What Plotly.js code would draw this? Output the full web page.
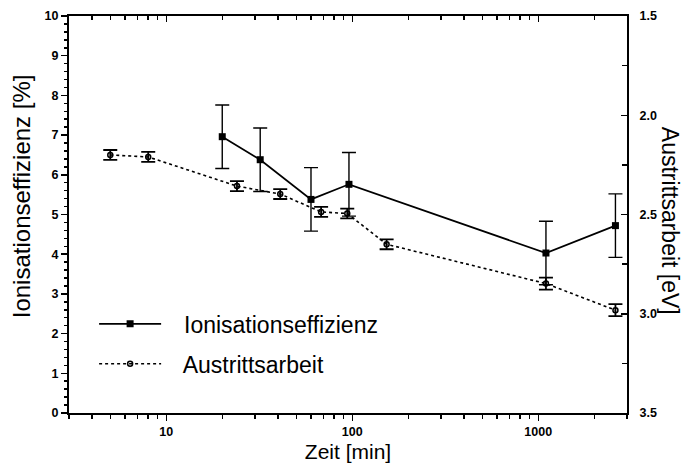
<!DOCTYPE html>
<html><head><meta charset="utf-8">
<script src="https://cdn.plot.ly/plotly-3.0.1.min.js"></script>
<style>html,body{margin:0;padding:0;background:#fff}</style>
</head><body><div id="chart" style="width:686px;height:470px"></div>
<script>
// Ionisationseffizienz [%] vs Zeit [min]
const ionTime = [20, 32, 60, 96, 1100, 2600];
const ionValue = [6.96, 6.38, 5.38, 5.76, 4.03, 4.72];
const ionError = [0.8, 0.8, 0.8, 0.8, 0.8, 0.8];
// Austrittsarbeit [eV] vs Zeit [min]
const workTime = [5, 8, 24, 41, 68, 94, 153, 1100, 2600];
const workValue = [2.20, 2.21, 2.357, 2.397, 2.487, 2.495, 2.65, 2.848, 2.982];
const workError = [0.025, 0.025, 0.025, 0.025, 0.025, 0.025, 0.025, 0.03, 0.03];
const xTickVals = [10, 100, 1000];
const xTickText = ['10', '100', '1000'];
const yLeftTicks = [0,1,2,3,4,5,6,7,8,9,10];
const yRightTicks = [1.5, 2.0, 2.5, 3.0, 3.5];
const yRightText = ['1.5', '2.0', '2.5', '3.0', '3.5'];

const FONT = 'Liberation Sans, Arial, sans-serif';
const tickFont = {family: 'Liberation Sans', size: 12.5, color: '#000', weight: 'bold'};

const traces = [
  {
    x: ionTime, y: ionValue, name: '\u2002 Ionisationseffizienz', type: 'scatter', mode: 'lines+markers',
    legendgroup: 'a',
    line: {color: '#000', width: 1.7},
    marker: {symbol: 'square', size: 7, color: '#000'},
    error_y: {type: 'data', array: ionError, visible: true, color: '#000', thickness: 1.4, width: 7},
    xaxis: 'x', yaxis: 'y'
  },
  {
    x: workTime, y: workValue, name: '\u2002 Austrittsarbeit', type: 'scatter', mode: 'lines+markers',
    legendgroup: 'b',
    line: {color: '#000', width: 1.6, dash: 'dot'},
    marker: {symbol: 'circle-open', size: 5, color: '#000', line: {width: 1.5, color: '#000'}},
    error_y: {type: 'data', array: workError, visible: true, color: '#000', thickness: 1.8, width: 7},
    xaxis: 'x', yaxis: 'y2'
  }
];

const xRange = [Math.log10(3), Math.log10(3000)];
const layout = {
  width: 686, height: 470,
  margin: {l: 69, r: 59, t: 16, b: 57, pad: 0},
  paper_bgcolor: '#fff', plot_bgcolor: '#fff',
  font: {family: FONT, color: '#000'},
  showlegend: true,
  legend: {
    x: 0.045, y: 0.174, xanchor: 'left', yanchor: 'middle',
    font: {family: FONT, size: 23, color: '#000'},
    bgcolor: 'rgba(0,0,0,0)', itemwidth: 62, tracegroupgap: 7
  },
  xaxis: {
    type: 'log', range: xRange, showgrid: false, zeroline: false,
    showline: true, linecolor: '#000', linewidth: 2,
    ticks: 'outside', ticklen: 6, tickwidth: 1.5, tickcolor: '#000',
    tickvals: xTickVals, ticktext: xTickText, tickfont: tickFont,
    minor: {ticks: 'outside', ticklen: 4, tickwidth: 1.5, tickcolor: '#000', dtick: 'D1', showgrid: false},
    title: {text: 'Zeit [min]', font: {family: FONT, size: 21, color: '#000'}, standoff: 6}
  },
  xaxis2: {
    type: 'log', range: xRange, overlaying: 'x', side: 'top', showgrid: false, zeroline: false,
    showline: true, linecolor: '#000', linewidth: 2,
    ticks: 'inside', ticklen: 6, tickwidth: 1.5, tickcolor: '#000',
    tickvals: xTickVals, showticklabels: false,
    minor: {ticks: 'inside', ticklen: 4, tickwidth: 1.5, tickcolor: '#000', dtick: 'D1', showgrid: false}
  },
  yaxis: {
    range: [0, 10], showgrid: false, zeroline: false,
    showline: true, linecolor: '#000', linewidth: 2,
    ticks: 'outside', ticklen: 6, tickwidth: 1.5, tickcolor: '#000',
    tickvals: yLeftTicks, tickfont: tickFont,
    minor: {ticks: 'outside', ticklen: 3, tickwidth: 1.5, tickcolor: '#000', dtick: 0.2, showgrid: false}
  },
  yaxis2: {
    range: [3.5, 1.5], overlaying: 'y', side: 'right', showgrid: false, zeroline: false,
    showline: true, linecolor: '#000', linewidth: 2,
    ticks: 'inside', ticklen: 6, tickwidth: 1.5, tickcolor: '#000',
    tickvals: yRightTicks, ticktext: yRightText, tickfont: tickFont, ticklabelstandoff: 8,
    minor: {ticks: 'inside', ticklen: 5, tickwidth: 1.5, tickcolor: '#000', dtick: 0.25, showgrid: false}
  },
  annotations: [
    {
      text: 'Ionisationseffizienz [%]', xref: 'paper', yref: 'paper', x: -0.086, y: 0.546,
      xanchor: 'center', yanchor: 'middle', textangle: -90, showarrow: false,
      font: {family: FONT, size: 24, color: '#000'}
    },
    {
      text: 'Austrittsarbeit [eV]', xref: 'paper', yref: 'paper', x: 1.076, y: 0.483,
      xanchor: 'center', yanchor: 'middle', textangle: 90, showarrow: false,
      font: {family: FONT, size: 23, color: '#000'}
    }
  ]
};
// helper trace to activate top axis
traces.push({x: [10], y: [null], xaxis: 'x2', yaxis: 'y', showlegend: false, hoverinfo: 'skip', mode: 'markers'});

Plotly.newPlot('chart', traces, layout, {staticPlot: true, displayModeBar: false});
</script></body></html>
